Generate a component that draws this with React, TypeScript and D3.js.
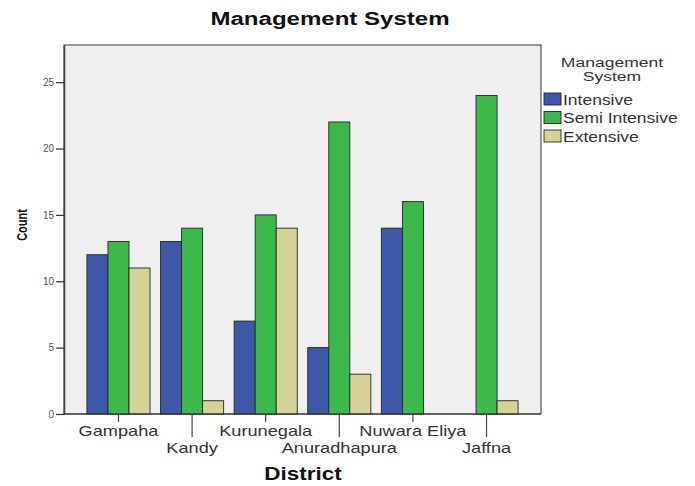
import { useEffect, useRef } from 'react';
import * as d3 from 'd3';

const districts = ['Gampaha', 'Kandy', 'Kurunegala', 'Anuradhapura', 'Nuwara Eliya', 'Jaffna'];
const systems = ['Intensive', 'Semi Intensive', 'Extensive'];
const intensive = [12, 13, 7, 5, 14, 0];
const semiIntensive = [13, 14, 15, 22, 16, 24];
const extensive = [11, 1, 14, 3, 0, 1];
const yTicks = [0, 5, 10, 15, 20, 25];

const COLORS = ['#3f57a8', '#3cb84a', '#d5d197'];
const FONT = 'Liberation Sans, Arial, sans-serif';

type G = d3.Selection<SVGGElement, unknown, null, undefined>;

// the reference text is drawn a bit wide, so stretch it on x
const stretchedText = (
  parent: G,
  x: number,
  y: number,
  str: string,
  size: number,
  sx: number,
  opts: { bold?: boolean; anchor?: string; fill?: string } = {}
) =>
  parent
    .append('text')
    .attr('transform', `translate(${x}, ${y}) scale(${sx}, 1)`)
    .attr('text-anchor', opts.anchor ?? 'middle')
    .attr('font-family', FONT)
    .attr('font-weight', opts.bold ? 'bold' : 'normal')
    .attr('font-size', size)
    .attr('fill', opts.fill ?? '#222')
    .text(str);

export default function App() {
  const svgRef = useRef<SVGSVGElement>(null);

  useEffect(() => {
    if (!svgRef.current) return;
    const svg = d3.select(svgRef.current);
    svg.selectAll('*').remove();
    const root = svg.append('g') as G;

    const left = 64;
    const right = 541;
    const top = 45;
    const bottom = 414;

    const values = [intensive, semiIntensive, extensive];

    const xScale = d3.scaleBand<string>().domain(districts).range([left, right]).paddingOuter(0.24);
    const sScale = d3
      .scaleBand<string>()
      .domain(systems)
      .range([0, xScale.bandwidth()])
      .paddingOuter(0.25);
    const yScale = d3.scaleLinear().domain([0, 27.8]).range([bottom, top]);

    // title
    stretchedText(root, 330, 25, 'Management System', 18.5, 1.3, { bold: true, fill: '#111' });

    // plot background
    root
      .append('rect')
      .attr('x', left)
      .attr('y', top)
      .attr('width', right - left)
      .attr('height', bottom - top)
      .attr('fill', '#f0efef')
      .attr('stroke', '#333')
      .attr('stroke-width', 1);

    // bars
    values.forEach((series, i) => {
      root
        .append('g')
        .selectAll('rect')
        .data(series.map((v, j) => ({ v, d: districts[j] })).filter((e) => e.v > 0))
        .join('rect')
        .attr('x', (e) => (xScale(e.d) ?? 0) + (sScale(systems[i]) ?? 0))
        .attr('y', (e) => yScale(e.v))
        .attr('width', sScale.bandwidth())
        .attr('height', (e) => bottom - yScale(e.v))
        .attr('fill', COLORS[i])
        .attr('stroke', '#1e2a22')
        .attr('stroke-width', 0.9);
    });

    // y axis
    const yAxis = d3
      .axisLeft(yScale)
      .tickValues(yTicks)
      .tickSizeInner(8)
      .tickSizeOuter(0)
      .tickPadding(2);
    const yg = root
      .append('g')
      .attr('transform', `translate(${left}, 0)`)
      .call(yAxis);
    yg.select('.domain').attr('stroke', '#444').attr('stroke-width', 1.6);
    yg.selectAll('.tick line').attr('stroke', '#333').attr('stroke-width', 1.2);
    yg.selectAll('.tick text')
      .attr('font-family', FONT)
      .attr('font-size', 10)
      .attr('fill', '#555');

    // x axis line
    root
      .append('line')
      .attr('x1', left)
      .attr('x2', right)
      .attr('y1', bottom)
      .attr('y2', bottom)
      .attr('stroke', '#333')
      .attr('stroke-width', 1.2);

    // category ticks and labels, staggered
    districts.forEach((d, i) => {
      const cx = (xScale(d) ?? 0) + xScale.bandwidth() / 2;
      root
        .append('line')
        .attr('x1', cx)
        .attr('x2', cx)
        .attr('y1', bottom)
        .attr('y2', bottom + (i % 2 === 0 ? 8 : 23))
        .attr('stroke', '#444')
        .attr('stroke-width', 1.2);
      stretchedText(root, cx, bottom + (i % 2 === 0 ? 22 : 39), d, 14, 1.3, { fill: '#333' });
    });

    // axis titles
    stretchedText(root, 303, 480, 'District', 18, 1.25, { bold: true, fill: '#111' });
    root
      .append('text')
      .attr('transform', 'translate(27, 225) rotate(-90) scale(1, 1.3)')
      .attr('text-anchor', 'middle')
      .attr('font-family', FONT)
      .attr('font-weight', 'bold')
      .attr('font-size', 11)
      .attr('fill', '#111')
      .text('Count');

    // legend
    stretchedText(root, 612, 67, 'Management', 13.5, 1.3, { fill: '#333' });
    stretchedText(root, 612, 80.5, 'System', 13.5, 1.3, { fill: '#333' });
    systems.forEach((s, i) => {
      const ly = 93 + i * 18.5;
      root
        .append('rect')
        .attr('x', 544)
        .attr('y', ly)
        .attr('width', 17)
        .attr('height', 12)
        .attr('fill', COLORS[i])
        .attr('stroke', '#1e2a22')
        .attr('stroke-width', 0.9);
      stretchedText(root, 563, ly + 11.5, s, 14, 1.25, { anchor: 'start', fill: '#333' });
    });
  }, []);

  return (
    <svg
      ref={svgRef}
      width={695}
      height={486}
      style={{ position: 'absolute', left: 0, top: 0, background: '#fff' }}
    />
  );
}
